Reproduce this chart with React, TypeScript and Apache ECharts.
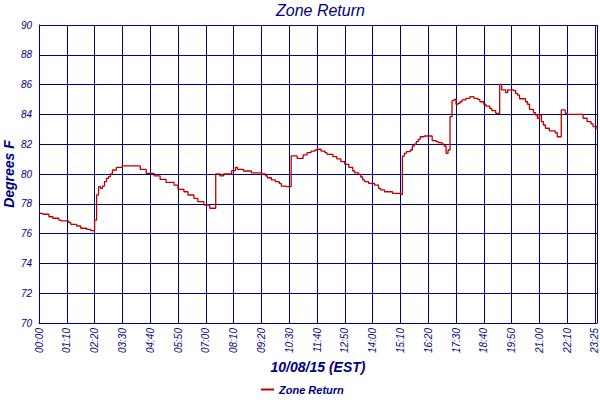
import React, { useEffect, useRef } from "react";
import * as echarts from "echarts";

// zone return temperature, one reading every 5 minutes from 00:00
const TEMPS = [
    77.36, 77.36, 77.3, 77.3, 77.3, 77.13, 77.13, 77.03, 77.03, 77.03,
    76.91, 76.85, 76.85, 76.85, 76.85, 76.73, 76.62, 76.62, 76.62, 76.51,
    76.51, 76.36, 76.36, 76.36, 76.29, 76.29, 76.2, 76.2, 76.9, 78.6,
    79.15, 79.04, 79.19, 79.49, 79.71, 79.82, 80.0, 80.27, 80.27, 80.45,
    80.45, 80.45, 80.54, 80.54, 80.54, 80.54, 80.54, 80.54, 80.54, 80.54,
    80.54, 80.31, 80.31, 80.31, 80.04, 80.04, 80.04, 80.04, 79.87, 79.87,
    79.87, 79.64, 79.64, 79.64, 79.44, 79.44, 79.44, 79.44, 79.26, 79.26,
    78.97, 78.97, 78.97, 78.81, 78.81, 78.59, 78.59, 78.59, 78.37, 78.37,
    78.14, 78.14, 78.14, 77.92, 77.92, 77.92, 77.7, 77.7, 77.7, 80.0,
    80.0, 79.87, 79.87, 80.0, 80.0, 80.0, 80.0, 80.22, 80.22, 80.45,
    80.31, 80.31, 80.31, 80.2, 80.2, 80.2, 80.2, 80.07, 80.07, 80.07,
    80.07, 80.07, 80.0, 80.0, 79.87, 79.75, 79.75, 79.6, 79.6, 79.49,
    79.49, 79.37, 79.19, 79.19, 79.15, 79.15, 79.15, 81.21, 81.21, 81.21,
    81.05, 81.05, 81.05, 81.28, 81.28, 81.43, 81.43, 81.54, 81.54, 81.61,
    81.66, 81.66, 81.54, 81.54, 81.43, 81.32, 81.32, 81.32, 81.16, 81.16,
    81.01, 81.01, 80.83, 80.83, 80.65, 80.65, 80.45, 80.45, 80.2, 80.07,
    80.07, 79.98, 79.8, 79.6, 79.49, 79.49, 79.37, 79.37, 79.37, 79.26,
    79.26, 79.04, 78.93, 78.93, 78.81, 78.81, 78.81, 78.81, 78.7, 78.7,
    78.7, 78.7, 78.64, 81.2, 81.39, 81.5, 81.5, 81.61, 81.88, 82.01,
    82.17, 82.33, 82.5, 82.5, 82.55, 82.55, 82.55, 82.55, 82.24, 82.24,
    82.17, 82.1, 82.1, 82.01, 81.88, 81.39, 81.61, 83.85, 84.92, 85.01,
    84.68, 84.74, 84.85, 84.97, 84.97, 85.08, 85.08, 85.19, 85.19, 85.08,
    85.08, 85.01, 84.85, 84.85, 84.68, 84.56, 84.56, 84.41, 84.25, 84.25,
    84.07, 84.07, 86.02, 85.64, 85.64, 85.46, 85.64, 85.64, 85.64, 85.59,
    85.41, 85.3, 85.05, 85.05, 85.05, 84.85, 84.68, 84.34, 84.34, 84.12,
    83.96, 83.74, 83.96, 83.51, 83.29, 83.07, 83.07, 82.89, 82.89, 82.89,
    82.77, 82.5, 82.5, 84.3, 84.3, 84.07, 84.0, 84.0, 84.0, 84.0,
    84.0, 84.0, 84.0, 84.0, 83.74, 83.74, 83.51, 83.51, 83.36, 83.18,
    83.18, 83.0,
];

const STEP_MIN = 5;
const LABEL_EVERY = 14; // one label / grid line every 70 minutes

function hhmm(min: number) {
    const h = Math.floor(min / 60);
    const m = min % 60;
    return String(h).padStart(2, "0") + ":" + String(m).padStart(2, "0");
}

const TIMES = TEMPS.map((_, i) => hhmm(i * STEP_MIN));

const NAVY = "#000080";
const RED = "#c00000";
const FONT = "Liberation Sans";

const showTick = (i: number) => i % LABEL_EVERY === 0 || i === TEMPS.length - 1;

const App: React.FC = () => {
    const ref = useRef<HTMLDivElement | null>(null);

    useEffect(() => {
        if (!ref.current) return;
        const inst = echarts.init(ref.current, undefined, { renderer: "svg" });

        const tickText = { color: NAVY, fontFamily: FONT, fontStyle: "italic", fontSize: 10 };
        const nameText = { ...tickText, fontWeight: "bold", fontSize: 14 };

        inst.setOption({
            animation: false,
            backgroundColor: "#fff",
            title: {
                text: "Zone Return",
                left: 271,
                top: -3,
                textStyle: {
                    color: NAVY,
                    fontFamily: FONT,
                    fontStyle: "italic",
                    fontWeight: "normal",
                    fontSize: 16,
                },
            },
            legend: {
                bottom: 0,
                left: 256,
                icon: "rect",
                itemWidth: 13,
                itemHeight: 2,
                itemGap: 4,
                data: ["Zone Return"],
                textStyle: { ...tickText, fontWeight: "bold", fontSize: 11 },
            },
            grid: { left: 39, right: 3, top: 25, bottom: 77, outerBoundsMode: "none" },
            xAxis: {
                type: "category",
                data: TIMES,
                boundaryGap: false,
                name: "10/08/15 (EST)",
                nameLocation: "middle",
                nameGap: 37,
                nameMoveOverlap: false,
                nameTextStyle: nameText,
                axisLine: { lineStyle: { color: NAVY, width: 1 } },
                axisTick: { show: false },
                axisLabel: {
                    interval: (i: number) => showTick(i),
                    hideOverlap: false,
                    showMaxLabel: true,
                    rotate: 90,
                    margin: 5,
                    ...tickText,
                    // last label squeezed against the right edge, nudge it inward
                    formatter: (v: string, i: number) =>
                        i === TEMPS.length - 1 ? `{last|${v}}` : v,
                    rich: { last: { ...tickText, padding: [0, 0, 6, 0] } },
                },
                splitLine: {
                    show: true,
                    interval: (i: number) => showTick(i),
                    lineStyle: { color: NAVY, width: 1 },
                },
            },
            yAxis: {
                type: "value",
                min: 70,
                max: 90,
                interval: 2,
                name: "Degrees F",
                nameLocation: "middle",
                nameGap: 23,
                nameMoveOverlap: false,
                nameTextStyle: nameText,
                axisLine: { show: true, lineStyle: { color: NAVY, width: 1 } },
                axisTick: { show: false },
                axisLabel: { margin: 7, ...tickText },
                splitLine: { show: true, lineStyle: { color: NAVY, width: 1 } },
            },
            series: [
                {
                    name: "Zone Return",
                    type: "line",
                    step: "end",
                    data: TEMPS,
                    showSymbol: false,
                    symbol: "none",
                    color: RED,
                    lineStyle: { color: RED, width: 1.3 },
                },
            ],
        });

        return () => inst.dispose();
    }, []);

    return (
        <div
            ref={ref}
            style={{ position: "fixed", left: 0, top: 0, width: 600, height: 400 }}
        />
    );
};

export default App;
